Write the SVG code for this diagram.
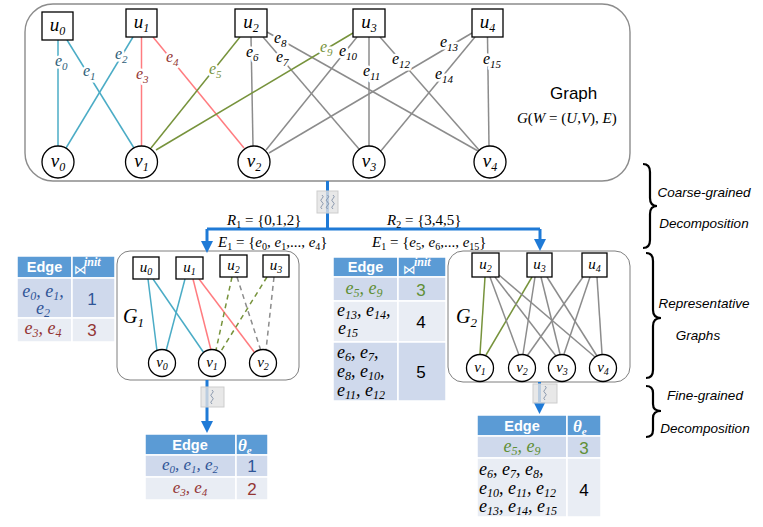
<svg xmlns="http://www.w3.org/2000/svg" width="763" height="527" viewBox="0 0 763 527">
<defs>
<style>
.ln{fill:none;stroke-width:1.5}
.cy{stroke:#4BACC6}.rd{stroke:#FF7C80}.gn{stroke:#77933C}.gy{stroke:#8C8C8C}
.dsh{stroke-dasharray:5 4}
.bx{fill:#fff;stroke:#000;stroke-width:1.3}
.nl{font-family:"Liberation Serif",serif;font-style:italic;font-size:19px;fill:#000;text-anchor:middle}
.nl2{font-family:"Liberation Serif",serif;font-style:italic;font-size:15px;fill:#000;text-anchor:middle}
.lab{font-family:"Liberation Serif",serif;font-style:italic;font-size:16px;paint-order:stroke;stroke:#fff;stroke-width:5px;stroke-linejoin:round}
.blue{stroke:#1F7AD6;stroke-width:3;fill:none}
.wav{fill:#E2E2E2;fill-opacity:0.8;stroke:#CDCDCD;stroke-width:1}
.sq{fill:none;stroke:#7F8FA6;stroke-width:0.9}
.brace{fill:none;stroke:#000;stroke-width:2.2}
.side{font-family:"Liberation Sans",sans-serif;font-style:italic;font-size:13.5px;text-anchor:middle;fill:#000}
.hd{font-family:"Liberation Sans",sans-serif;font-weight:bold;font-size:14.5px;fill:#fff;text-anchor:middle}
.bt{font-family:"DejaVu Sans",sans-serif;font-size:13px;fill:#fff}
.sup{font-family:"Liberation Serif",serif;font-style:italic;font-weight:bold;font-size:12px;fill:#fff}
.th{font-family:"Liberation Serif",serif;font-style:italic;font-weight:bold;font-size:17px;fill:#fff}
.hdr{fill:#5B9BD5;stroke:#fff;stroke-width:1.5}
.r1{fill:#CFD9EC;stroke:#fff;stroke-width:1.5}
.r2{fill:#E9EDF4;stroke:#fff;stroke-width:1.5}
.te{font-family:"Liberation Serif",serif;font-style:italic;font-size:18px}
.tc{font-family:"Liberation Serif",serif;font-style:italic;font-size:17px}
.num{font-family:"Liberation Sans",sans-serif;font-size:17px;text-anchor:middle}
.mid{text-anchor:middle}
.cb{fill:#2F5597}.cr{fill:#943634}.cg{fill:#5F8F35}.ck{fill:#000}
.ct{fill:#2E5E78}.cr2{fill:#953735}.cg2{fill:#77933C}
.math{font-family:"Liberation Serif",serif;font-size:15px;fill:#000}
</style>
<marker id="ah" viewBox="0 0 12 12" refX="4" refY="6" markerWidth="12" markerHeight="12" markerUnits="userSpaceOnUse" orient="auto"><path d="M0,0 L12,6 L0,12 z" fill="#1F7AD6"/></marker>
<path id="sqg" d="M0,0 q2.5,1.75 0,3.5 t0,3.5 t0,3.5 t0,3.5"/>
</defs>

<!-- Top graph container -->
<g id="graph-G">
<rect x="25" y="4" width="605" height="177" rx="28" fill="#fff" stroke="#8C8C8C" stroke-width="1.4"/>
<text x="550" y="99" font-family="Liberation Sans, sans-serif" font-size="17" fill="#000">Graph</text>
<text x="517" y="123" class="math"><tspan font-style="italic">G</tspan>(<tspan font-style="italic">W</tspan> = (<tspan font-style="italic">U</tspan>,<tspan font-style="italic">V</tspan>), <tspan font-style="italic">E</tspan>)</text>
</g>

<!-- Representative graph containers -->
<g id="graph-G1">
<rect x="117" y="251" width="182" height="129" rx="13" fill="#fff" stroke="#7F7F7F" stroke-width="1"/>
<text x="123" y="323" font-family="Liberation Serif, serif" font-style="italic" font-size="20">G<tspan font-size="13" dy="4">1</tspan></text>
</g>
<g id="graph-G2">
<rect x="448" y="251" width="182" height="131" rx="15" fill="#fff" stroke="#7F7F7F" stroke-width="1"/>
<text x="456" y="323" font-family="Liberation Serif, serif" font-style="italic" font-size="20">G<tspan font-size="13" dy="4">2</tspan></text>
</g>

<!-- Connectors -->
<g id="edges">
<!-- top graph -->
<line class="ln cy" x1="58" y1="40" x2="58" y2="146"/>
<line class="ln cy" x1="67" y1="40" x2="134" y2="148"/>
<line class="ln cy" x1="133" y1="37" x2="66" y2="148"/>
<line class="ln rd" x1="141.5" y1="37" x2="141.5" y2="146"/>
<line class="ln rd" x1="153" y1="37" x2="244" y2="148"/>
<line class="ln gn" x1="240" y1="37" x2="151" y2="148"/>
<line class="ln gy" x1="251" y1="37" x2="253" y2="146"/>
<line class="ln gy" x1="263" y1="37" x2="359" y2="149"/>
<line class="ln gy" x1="267" y1="32" x2="478" y2="151"/>
<line class="ln gn" x1="353" y1="33" x2="156" y2="150"/>
<line class="ln gy" x1="357" y1="37" x2="266" y2="150"/>
<line class="ln gy" x1="369" y1="37" x2="369" y2="146"/>
<line class="ln gy" x1="380" y1="37" x2="479" y2="150"/>
<line class="ln gy" x1="472" y1="33" x2="269" y2="153"/>
<line class="ln gy" x1="475" y1="37" x2="380" y2="152"/>
<line class="ln gy" x1="487.5" y1="37" x2="489" y2="146"/>
<!-- G1 -->
<line class="ln cy" x1="148" y1="279" x2="157" y2="351"/>
<line class="ln cy" x1="153" y1="279" x2="204" y2="353"/>
<line class="ln cy" x1="185" y1="279" x2="166" y2="351"/>
<line class="ln rd" x1="193" y1="279" x2="211" y2="350"/>
<line class="ln rd" x1="199" y1="279" x2="255" y2="353"/>
<line class="ln gn dsh" x1="232" y1="277" x2="216" y2="350"/>
<line class="ln gn dsh" x1="267" y1="277" x2="221" y2="351"/>
<line class="ln gy dsh" x1="237" y1="277" x2="261" y2="351"/>
<line class="ln gy dsh" x1="274" y1="277" x2="266" y2="350"/>
<!-- G2 -->
<line class="ln gn" x1="485" y1="277" x2="480" y2="354"/>
<line class="ln gn" x1="532" y1="277" x2="486" y2="355"/>
<line class="ln gy" x1="490" y1="277" x2="519" y2="355"/>
<line class="ln gy" x1="495" y1="277" x2="556" y2="356"/>
<line class="ln gy" x1="499" y1="275" x2="595" y2="357"/>
<line class="ln gy" x1="535" y1="277" x2="523" y2="354"/>
<line class="ln gy" x1="541" y1="277" x2="560" y2="354"/>
<line class="ln gy" x1="547" y1="277" x2="597" y2="356"/>
<line class="ln gy" x1="583" y1="277" x2="527" y2="356"/>
<line class="ln gy" x1="590" y1="277" x2="564" y2="354"/>
<line class="ln gy" x1="597" y1="277" x2="602" y2="354"/>
</g>

<!-- Edge labels of top graph -->
<g id="edge-labels">
<text class="lab ct" x="55" y="66">e<tspan font-size="11" dy="4">0</tspan></text>
<text class="lab ct" x="83" y="76">e<tspan font-size="11" dy="4">1</tspan></text>
<text class="lab ct" x="115" y="59">e<tspan font-size="11" dy="4">2</tspan></text>
<text class="lab cr2" x="136" y="79">e<tspan font-size="11" dy="4">3</tspan></text>
<text class="lab cr2" x="166" y="62">e<tspan font-size="11" dy="4">4</tspan></text>
<text class="lab cg2" x="209" y="74">e<tspan font-size="11" dy="4">5</tspan></text>
<text class="lab ck" x="246" y="57">e<tspan font-size="11" dy="4">6</tspan></text>
<text class="lab ck" x="276" y="62">e<tspan font-size="11" dy="4">7</tspan></text>
<text class="lab ck" x="274" y="43">e<tspan font-size="11" dy="4">8</tspan></text>
<text class="lab cg2" x="320" y="52">e<tspan font-size="11" dy="4">9</tspan></text>
<text class="lab ck" x="339" y="56">e<tspan font-size="11" dy="4">10</tspan></text>
<text class="lab ck" x="363" y="76">e<tspan font-size="11" dy="4">11</tspan></text>
<text class="lab ck" x="392" y="64">e<tspan font-size="11" dy="4">12</tspan></text>
<text class="lab ck" x="440" y="47">e<tspan font-size="11" dy="4">13</tspan></text>
<text class="lab ck" x="435" y="79">e<tspan font-size="11" dy="4">14</tspan></text>
<text class="lab ck" x="483" y="64">e<tspan font-size="11" dy="4">15</tspan></text>
</g>

<!-- Top graph nodes -->
<g id="u0"><rect class="bx" x="42" y="12" width="31" height="28"/><text class="nl" x="57.5" y="31">u<tspan font-size="12" dy="4">0</tspan></text></g>
<g id="u1"><rect class="bx" x="126" y="9" width="31" height="28"/><text class="nl" x="141.5" y="28">u<tspan font-size="12" dy="4">1</tspan></text></g>
<g id="u2"><rect class="bx" x="235" y="9" width="32" height="28"/><text class="nl" x="251" y="28">u<tspan font-size="12" dy="4">2</tspan></text></g>
<g id="u3"><rect class="bx" x="353" y="9" width="32" height="28"/><text class="nl" x="369" y="28">u<tspan font-size="12" dy="4">3</tspan></text></g>
<g id="u4"><rect class="bx" x="472" y="9" width="31" height="28"/><text class="nl" x="487.5" y="28">u<tspan font-size="12" dy="4">4</tspan></text></g>
<g id="v0"><circle class="bx" cx="58" cy="162" r="16"/><text class="nl" x="58" y="167">v<tspan font-size="12" dy="4">0</tspan></text></g>
<g id="v1"><circle class="bx" cx="141.5" cy="162" r="16"/><text class="nl" x="141.5" y="167">v<tspan font-size="12" dy="4">1</tspan></text></g>
<g id="v2"><circle class="bx" cx="254" cy="162" r="16"/><text class="nl" x="254" y="167">v<tspan font-size="12" dy="4">2</tspan></text></g>
<g id="v3"><circle class="bx" cx="369" cy="162" r="16"/><text class="nl" x="369" y="167">v<tspan font-size="12" dy="4">3</tspan></text></g>
<g id="v4"><circle class="bx" cx="490" cy="162" r="16"/><text class="nl" x="490" y="167">v<tspan font-size="12" dy="4">4</tspan></text></g>

<!-- G1 nodes -->
<g id="g1-u0"><rect class="bx" x="133" y="257" width="26" height="22"/><text class="nl2" x="146" y="272">u<tspan font-size="10" dy="3">0</tspan></text></g>
<g id="g1-u1"><rect class="bx" x="176" y="257" width="27" height="22"/><text class="nl2" x="189.5" y="272">u<tspan font-size="10" dy="3">1</tspan></text></g>
<g id="g1-u2"><rect class="bx" x="220" y="255" width="27" height="22"/><text class="nl2" x="233.5" y="270">u<tspan font-size="10" dy="3">2</tspan></text></g>
<g id="g1-u3"><rect class="bx" x="263" y="255" width="26" height="22"/><text class="nl2" x="276" y="270">u<tspan font-size="10" dy="3">3</tspan></text></g>
<g id="g1-v0"><circle class="bx" cx="162" cy="363" r="13.5"/><text class="nl2" x="162" y="367">v<tspan font-size="10" dy="3">0</tspan></text></g>
<g id="g1-v1"><circle class="bx" cx="212" cy="363" r="13.5"/><text class="nl2" x="212" y="367">v<tspan font-size="10" dy="3">1</tspan></text></g>
<g id="g1-v2"><circle class="bx" cx="263" cy="363" r="13.5"/><text class="nl2" x="263" y="367">v<tspan font-size="10" dy="3">2</tspan></text></g>

<!-- G2 nodes -->
<g id="g2-u2"><rect class="bx" x="472" y="253" width="27" height="24"/><text class="nl2" x="485.5" y="269">u<tspan font-size="10" dy="3">2</tspan></text></g>
<g id="g2-u3"><rect class="bx" x="527" y="253" width="25" height="24"/><text class="nl2" x="539.5" y="269">u<tspan font-size="10" dy="3">3</tspan></text></g>
<g id="g2-u4"><rect class="bx" x="582" y="253" width="25" height="24"/><text class="nl2" x="594.5" y="269">u<tspan font-size="10" dy="3">4</tspan></text></g>
<g id="g2-v1"><circle class="bx" cx="480" cy="368" r="13.5"/><text class="nl2" x="480" y="372">v<tspan font-size="10" dy="3">1</tspan></text></g>
<g id="g2-v2"><circle class="bx" cx="522" cy="368" r="13.5"/><text class="nl2" x="522" y="372">v<tspan font-size="10" dy="3">2</tspan></text></g>
<g id="g2-v3"><circle class="bx" cx="562" cy="368" r="13.5"/><text class="nl2" x="562" y="372">v<tspan font-size="10" dy="3">3</tspan></text></g>
<g id="g2-v4"><circle class="bx" cx="603" cy="368" r="13.5"/><text class="nl2" x="603" y="372">v<tspan font-size="10" dy="3">4</tspan></text></g>

<!-- Decomposition arrows -->
<g id="flow">
<path class="blue" d="M327.5,181 V229"/>
<path class="blue" d="M207,229 H540"/>
<path class="blue" d="M207,229 V245" marker-end="url(#ah)"/>
<path class="blue" d="M540,229 V243" marker-end="url(#ah)"/>
<path class="blue" d="M207,380 V425" marker-end="url(#ah)"/>
<path class="blue" d="M539.5,382 V406" marker-end="url(#ah)"/>
<rect class="wav" x="317" y="191" width="21" height="22"/>
<use href="#sqg" class="sq" x="322" y="195"/>
<use href="#sqg" class="sq" x="327.5" y="195"/>
<use href="#sqg" class="sq" x="333" y="195"/>
<rect class="wav" x="201" y="387" width="23" height="20"/>
<use href="#sqg" class="sq" x="212" y="390"/>
<rect class="wav" x="533" y="384" width="24" height="19"/>
<use href="#sqg" class="sq" x="545" y="386"/>
<text x="227" y="225" class="math"><tspan font-style="italic">R</tspan><tspan font-size="10" dy="3">1</tspan><tspan dy="-3"> = {0,1,2}</tspan></text>
<text x="218" y="247" class="math"><tspan font-style="italic">E</tspan><tspan font-size="10" dy="3">1</tspan><tspan dy="-3"> = {</tspan><tspan font-style="italic">e</tspan><tspan font-size="10" dy="3">0</tspan><tspan dy="-3">, </tspan><tspan font-style="italic">e</tspan><tspan font-size="10" dy="3">1</tspan><tspan dy="-3">,..., </tspan><tspan font-style="italic">e</tspan><tspan font-size="10" dy="3">4</tspan><tspan dy="-3">}</tspan></text>
<text x="387" y="225" class="math"><tspan font-style="italic">R</tspan><tspan font-size="10" dy="3">2</tspan><tspan dy="-3"> = {3,4,5}</tspan></text>
<text x="372" y="247" class="math"><tspan font-style="italic">E</tspan><tspan font-size="10" dy="3">1</tspan><tspan dy="-3"> = {</tspan><tspan font-style="italic">e</tspan><tspan font-size="10" dy="3">5</tspan><tspan dy="-3">, </tspan><tspan font-style="italic">e</tspan><tspan font-size="10" dy="3">6</tspan><tspan dy="-3">,..., </tspan><tspan font-style="italic">e</tspan><tspan font-size="10" dy="3">15</tspan><tspan dy="-3">}</tspan></text>
</g>

<!-- Table A (G1 init) -->
<g id="table-g1-init">
<rect class="hdr" x="17" y="256" width="55" height="22"/><rect class="hdr" x="72" y="256" width="43" height="22"/>
<rect class="r1" x="17" y="278" width="55" height="40"/><rect class="r1" x="72" y="278" width="43" height="40"/>
<rect class="r2" x="17" y="318" width="55" height="24"/><rect class="r2" x="72" y="318" width="43" height="24"/>
<text class="hd" x="44.5" y="272">Edge</text>
<text class="bt" x="74" y="274">⋈</text><text class="sup" x="84" y="266">init</text>
<text class="te cb mid" x="43" y="297">e<tspan font-size="12" dy="3">0</tspan><tspan dy="-3">, e</tspan><tspan font-size="12" dy="3">1</tspan><tspan dy="-3">,</tspan></text>
<text class="te cb mid" x="43" y="314">e<tspan font-size="12" dy="3">2</tspan></text>
<text class="num cb" x="92" y="305">1</text>
<text class="te cr mid" x="43" y="334">e<tspan font-size="12" dy="3">3</tspan><tspan dy="-3">, e</tspan><tspan font-size="12" dy="3">4</tspan></text>
<text class="num cr" x="92" y="336">3</text>
</g>

<!-- Table B (G2 init) -->
<g id="table-g2-init">
<rect class="hdr" x="333" y="257" width="65" height="20"/><rect class="hdr" x="398" y="257" width="48" height="20"/>
<rect class="r1" x="333" y="277" width="65" height="24"/><rect class="r1" x="398" y="277" width="48" height="24"/>
<rect class="r2" x="333" y="301" width="65" height="41"/><rect class="r2" x="398" y="301" width="48" height="41"/>
<rect class="r1" x="333" y="342" width="65" height="59"/><rect class="r1" x="398" y="342" width="48" height="59"/>
<text class="hd" x="365.5" y="272">Edge</text>
<text class="bt" x="403" y="274">⋈</text><text class="sup" x="414" y="266">init</text>
<text class="te cg mid" x="364" y="294">e<tspan font-size="12" dy="3">5</tspan><tspan dy="-3">, e</tspan><tspan font-size="12" dy="3">9</tspan></text>
<text class="num cg" x="421" y="296">3</text>
<text class="te ck" x="337" y="316">e<tspan font-size="12" dy="3">13</tspan><tspan dy="-3">, e</tspan><tspan font-size="12" dy="3">14</tspan><tspan dy="-3">,</tspan></text>
<text class="te ck" x="338" y="334">e<tspan font-size="12" dy="3">15</tspan></text>
<text class="num ck" x="421" y="328">4</text>
<text class="te ck" x="337" y="358">e<tspan font-size="12" dy="3">6</tspan><tspan dy="-3">, e</tspan><tspan font-size="12" dy="3">7</tspan><tspan dy="-3">,</tspan></text>
<text class="te ck" x="337" y="377">e<tspan font-size="12" dy="3">8</tspan><tspan dy="-3">, e</tspan><tspan font-size="12" dy="3">10</tspan><tspan dy="-3">,</tspan></text>
<text class="te ck" x="337" y="396">e<tspan font-size="12" dy="3">11</tspan><tspan dy="-3">, e</tspan><tspan font-size="12" dy="3">12</tspan></text>
<text class="num ck" x="421" y="378">5</text>
</g>

<!-- Table C (G1 theta) -->
<g id="table-g1-theta">
<rect class="hdr" x="145" y="434" width="91" height="21"/><rect class="hdr" x="236" y="434" width="32" height="21"/>
<rect class="r1" x="145" y="455" width="91" height="22"/><rect class="r1" x="236" y="455" width="32" height="22"/>
<rect class="r2" x="145" y="477" width="91" height="23"/><rect class="r2" x="236" y="477" width="32" height="23"/>
<text class="hd" x="190" y="450">Edge</text>
<text class="th" x="238" y="451">θ<tspan font-size="11" dy="3">e</tspan></text>
<text class="tc cb mid" x="190" y="470">e<tspan font-size="11" dy="3">0</tspan><tspan dy="-3">, e</tspan><tspan font-size="11" dy="3">1</tspan><tspan dy="-3">, e</tspan><tspan font-size="11" dy="3">2</tspan></text>
<text class="num cb" x="252" y="472">1</text>
<text class="tc cr mid" x="190" y="493">e<tspan font-size="11" dy="3">3</tspan><tspan dy="-3">, e</tspan><tspan font-size="11" dy="3">4</tspan></text>
<text class="num cr" x="252" y="495">2</text>
</g>

<!-- Table D (G2 theta) -->
<g id="table-g2-theta">
<rect class="hdr" x="477" y="415" width="90" height="21"/><rect class="hdr" x="567" y="415" width="34" height="21"/>
<rect class="r1" x="477" y="436" width="90" height="22"/><rect class="r1" x="567" y="436" width="34" height="22"/>
<rect class="r2" x="477" y="458" width="90" height="59"/><rect class="r2" x="567" y="458" width="34" height="59"/>
<text class="hd" x="522" y="431">Edge</text>
<text class="th" x="573" y="432">θ<tspan font-size="11" dy="3">e</tspan></text>
<text class="te cg mid" x="522" y="452">e<tspan font-size="12" dy="3">5</tspan><tspan dy="-3">, e</tspan><tspan font-size="12" dy="3">9</tspan></text>
<text class="num cg" x="584" y="454">3</text>
<text class="te ck" x="479" y="475">e<tspan font-size="12" dy="3">6</tspan><tspan dy="-3">, e</tspan><tspan font-size="12" dy="3">7</tspan><tspan dy="-3">, e</tspan><tspan font-size="12" dy="3">8</tspan><tspan dy="-3">,</tspan></text>
<text class="te ck" x="479" y="494">e<tspan font-size="12" dy="3">10</tspan><tspan dy="-3">, e</tspan><tspan font-size="12" dy="3">11</tspan><tspan dy="-3">, e</tspan><tspan font-size="12" dy="3">12</tspan></text>
<text class="te ck" x="479" y="512">e<tspan font-size="12" dy="3">13</tspan><tspan dy="-3">, e</tspan><tspan font-size="12" dy="3">14</tspan><tspan dy="-3">, e</tspan><tspan font-size="12" dy="3">15</tspan></text>
<text class="num ck" x="584" y="496">4</text>
</g>

<!-- Side braces -->
<g id="stage-coarse">
<path class="brace" d="M643,164 Q650,164 650,172 L650,198 Q650,206 657,206 Q650,206 650,214 L650,240 Q650,248 643,248"/>
<text class="side" x="704" y="197">Coarse-grained</text>
<text class="side" x="704" y="228">Decomposition</text>
</g>
<g id="stage-representative">
<path class="brace" d="M646,253 Q653,253 653,261 L653,310 Q653,318 661,318 Q653,318 653,326 L653,370 Q653,378 646,378"/>
<text class="side" x="704" y="308">Representative</text>
<text class="side" x="698" y="340">Graphs</text>
</g>
<g id="stage-fine">
<path class="brace" d="M646,386 Q653,386 653,393 L653,404 Q653,411 661,411 Q653,411 653,418 L653,430 Q653,437 646,437"/>
<text class="side" x="705" y="400">Fine-grained</text>
<text class="side" x="705" y="433">Decomposition</text>
</g>
</svg>
